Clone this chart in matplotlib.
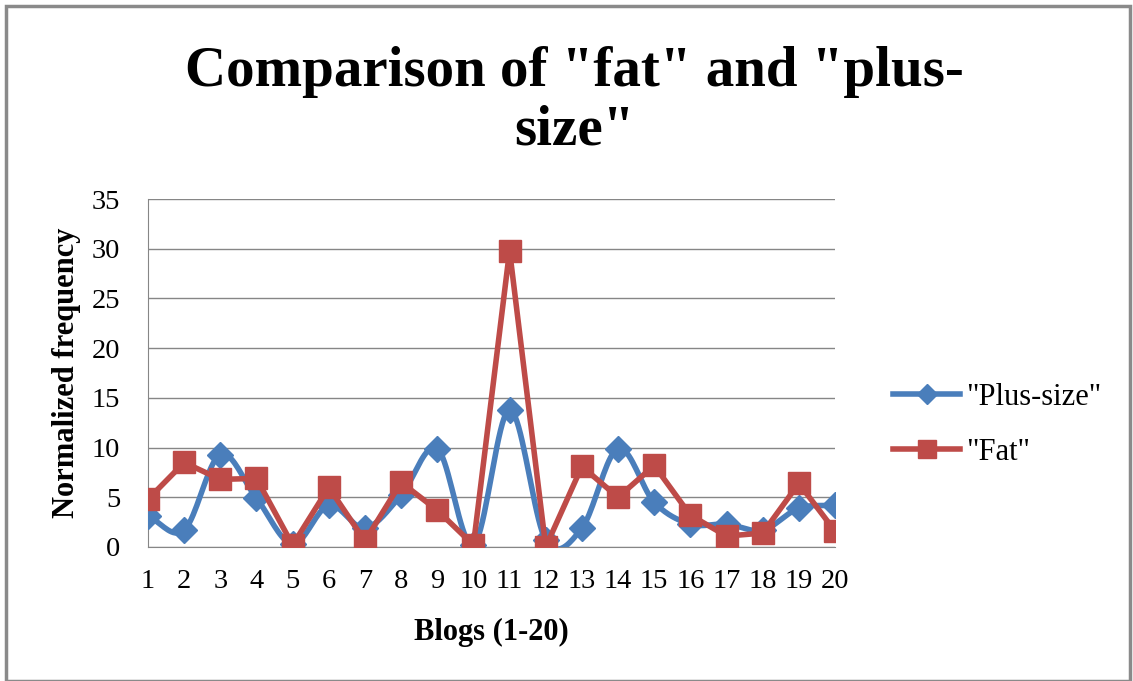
import numpy as np
import matplotlib
matplotlib.use("Agg")
import matplotlib.pyplot as plt
from matplotlib.lines import Line2D
from matplotlib.patches import Rectangle

blogs = list(range(1, 21))
plus_size = [3.1, 1.7, 9.3, 4.9, 0.3, 4.2, 1.9, 5.2, 9.9, 0.2,
             13.8, 0.7, 1.9, 9.9, 4.5, 2.3, 2.3, 1.7, 3.9, 4.2]
fat = [4.8, 8.5, 6.8, 6.9, 0.2, 6.0, 0.6, 6.5, 3.7, 0.2,
       29.8, 0.0, 8.1, 5.0, 8.2, 3.2, 1.1, 1.4, 6.4, 1.6]
y_ticks = [0, 5, 10, 15, 20, 25, 30, 35]

BLUE = "#4A7EBB"
RED = "#BE4B48"
SERIF = ["Liberation Serif", "DejaVu Serif"]


def smooth(xs, ys, n=20):
    """Catmull-Rom spline through the points (smoothed line rendering)."""
    x = np.asarray(xs, float)
    y = np.asarray(ys, float)
    px = np.concatenate([[2 * x[0] - x[1]], x, [2 * x[-1] - x[-2]]])
    py = np.concatenate([[2 * y[0] - y[1]], y, [2 * y[-1] - y[-2]]])
    out_x, out_y = [], []
    t = np.linspace(0, 1, n, endpoint=False)
    for i in range(1, len(px) - 2):
        for arr, out in ((px, out_x), (py, out_y)):
            p0, p1, p2, p3 = arr[i - 1], arr[i], arr[i + 1], arr[i + 2]
            out.extend(0.5 * ((2 * p1) + (-p0 + p2) * t
                              + (2 * p0 - 5 * p1 + 4 * p2 - p3) * t ** 2
                              + (-p0 + 3 * p1 - 3 * p2 + p3) * t ** 3))
    out_x.append(x[-1])
    out_y.append(y[-1])
    return out_x, out_y


fig = plt.figure(figsize=(11.33, 6.81), dpi=100)
W, H = 1133, 681
ax = fig.add_axes([148 / W, (H - 547) / H, (835 - 148) / W, (547 - 199) / H])

sx, sy = smooth(blogs, plus_size)
ax.plot(sx, sy, color=BLUE, lw=4, solid_capstyle="round", zorder=3)
ax.plot(blogs, plus_size, ls="none", marker="D", ms=13, color=BLUE, zorder=4)
ax.plot(blogs, fat, color=RED, lw=4, marker="s", ms=16.5,
        solid_joinstyle="round", zorder=5)

ax.set_xlim(1, 20)
ax.set_ylim(0, 35)
ax.set_xticks(blogs)
ax.set_yticks(y_ticks)
ax.grid(axis="y", color="#868686", lw=1)
ax.set_axisbelow(True)
for side in ("top", "right"):
    ax.spines[side].set_visible(False)
for side in ("left", "bottom"):
    ax.spines[side].set_color("#868686")
ax.tick_params(length=0, labelsize=20.5)
ax.tick_params(axis="x", pad=16)
ax.tick_params(axis="y", pad=20)
for lab in ax.get_xticklabels() + ax.get_yticklabels():
    lab.set_family(SERIF)

ax.set_xlabel("Blogs (1-20)", family=SERIF, fontsize=22, fontweight="bold",
              labelpad=17)
ax.set_ylabel("Normalized frequency", family=SERIF, fontsize=22,
              fontweight="bold", labelpad=8)

fig.text(574 / W, 1 - 101 / H, 'Comparison of "fat" and "plus-\nsize"',
         ha="center", va="center", family=SERIF, fontsize=41,
         fontweight="bold", linespacing=1.17)

handles = [
    Line2D([], [], color=BLUE, lw=4, marker="D", ms=10),
    Line2D([], [], color=RED, lw=4, marker="s", ms=13),
]
fig.legend(handles, ['"Plus-size"', '"Fat"'], loc="center left",
           bbox_to_anchor=(893 / W, 1 - 425 / H), frameon=False,
           borderpad=0, borderaxespad=0,
           prop={"family": SERIF, "size": 22}, handlelength=2.2,
           labelspacing=0.85, handletextpad=0.2)

fig.patches.append(Rectangle((6 / W, 0), (1130 - 6) / W, 1 - 6 / H,
                             transform=fig.transFigure, fill=False,
                             ec="#8a8a8a", lw=2.5))

fig.savefig("out.png", dpi=100, facecolor="white")
